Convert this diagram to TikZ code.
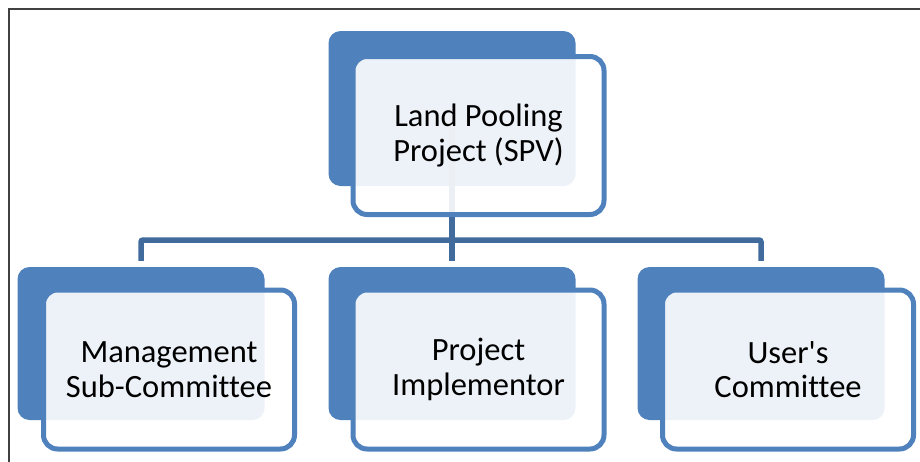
\documentclass[tikz,border=0pt]{standalone}
\usepackage{fontspec}
\setmainfont{Carlito}[Ligatures={NoCommon}]
\definecolor{boxblue}{RGB}{79,129,189}
\definecolor{linkblue}{RGB}{65,107,156}
\definecolor{framegray}{RGB}{64,64,64}
% straight apostrophe, set as a glyph so no quote mapping applies
\newcommand{\straightquote}{\XeTeXglyph\XeTeXcharglyph"27\relax}
\begin{document}
\begin{tikzpicture}[x=1pt,y=-1pt,
  backbox/.style={rectangle, rounded corners=12pt, fill=boxblue, draw=none,
    minimum width=247pt, minimum height=155pt, inner sep=0pt},
  frontbox/.style={rectangle, rounded corners=14pt, fill=white, fill opacity=0.9,
    draw=boxblue, line width=5pt, minimum width=251pt, minimum height=159pt,
    text opacity=1, text=black, align=center, inner sep=0pt,
    font=\fontsize{32.5}{34.5}\selectfont},
  conn/.style={draw=linkblue, line width=5.5pt, rounded corners=2pt}]
  \useasboundingbox (0,0) rectangle (920,461);
  % outer frame (top and left edges)
  \draw[framegray, line width=2pt] (8.5,470) -- (8.5,8.5) -- (930,8.5);

  % back plates
  \node[backbox] (b0) at (452,108.5) {};
  \node[backbox, minimum height=153pt] (b1) at (141,343.5) {};
  \node[backbox, minimum height=153pt] (b2) at (452,343.5) {};
  \node[backbox, minimum height=153pt] (b3) at (761,343.5) {};

  % connectors, drawn beneath the front cards
  \coordinate (bus) at (452,240);
  \draw[conn] (b0.center) -- ([yshift=6pt]b2.north);
  \draw[conn] ([yshift=6pt]b1.north) -- (b1.north |- bus) -- (b3.north |- bus) -- ([yshift=6pt]b3.north);

  % front cards with labels
  \node[frontbox, minimum height=158pt] (f0) at (478.5,135.5) {Land Pooling\\Project (SPV)};
  \node[frontbox] (f1) at (169,369.5) {Management\\Sub-Committee};
  \node[frontbox] (f2) at (478.5,369.5) {Project\\Implementor};
  \node[frontbox] (f3) at (788,369.5) {User\straightquote s\\Committee};
\end{tikzpicture}
\end{document}
